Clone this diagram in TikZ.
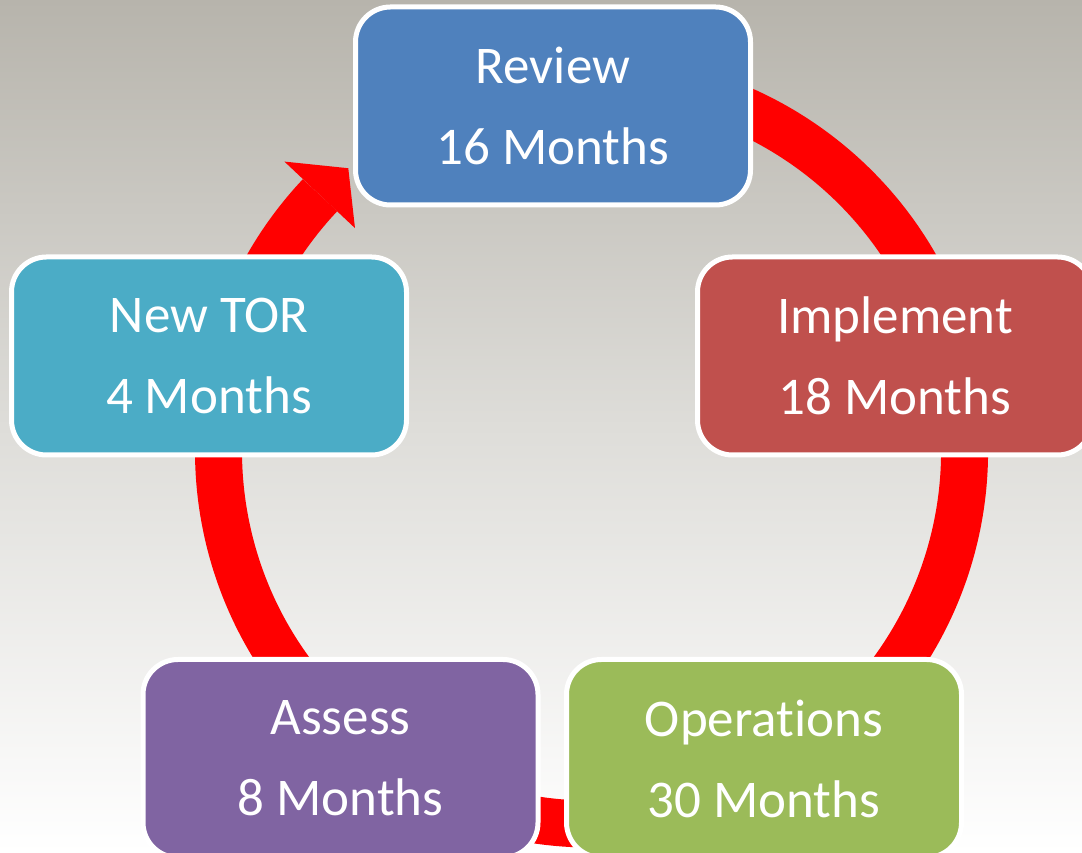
\documentclass[tikz,border=0pt]{standalone}
\usepackage{fontspec}
\setmainfont{Carlito}[Ligatures={NoCommon}]
\usetikzlibrary{calc}

\definecolor{bgtop}{RGB}{183,180,172}
\definecolor{reviewc}{RGB}{79,129,189}
\definecolor{implc}{RGB}{192,80,77}
\definecolor{opsc}{RGB}{155,187,89}
\definecolor{assessc}{RGB}{128,100,162}
\definecolor{torc}{RGB}{75,172,198}

\begin{document}
\begin{tikzpicture}[x=1pt,y=1pt,
        stage/.style={draw=white, line width=5pt, rounded corners=35pt, minimum width=395pt, minimum height=198pt, align=center, text=white, font=\fontsize{53}{81}\selectfont},
        ring/.style={draw=red, line width=47pt}]
    % background
    \shade[top color=bgtop, bottom color=white, middle color={rgb,255:red,222;green,221;blue,217}] (0,0) rectangle (1082,853);
    \useasboundingbox (0,0) rectangle (1082,853);
    \coordinate (hub) at (591.5,402);
    % cycle ring with its arrow head at Review
    \draw[ring] ($(hub)+(100:373)$) arc[start angle=100, end angle=-223.3, radius=373];
    \fill[red] ($(hub)+(136.7:422)$) -- ($(hub)+(130.7:373)$) -- ($(hub)+(136.7:325)$) -- cycle;
    % stages
    \node[stage, fill=reviewc] (review) at (553,747) {Review\\16 Months};
    \node[stage, fill=implc] (implement) at (895,497) {Implement\\18 Months};
    \node[stage, fill=opsc] (operations) at (764,94.5) {Operations\\30 Months};
    \node[stage, fill=assessc] (assess) at (340.5,94.5) {Assess\\8 Months};
    \node[stage, fill=torc] (newtor) at (209,497) {New TOR\\4 Months};
\end{tikzpicture}
\end{document}
